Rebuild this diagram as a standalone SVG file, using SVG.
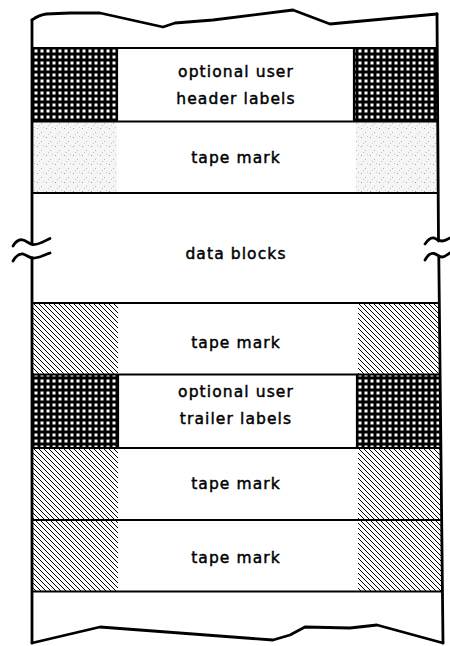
<svg xmlns="http://www.w3.org/2000/svg" width="450" height="646" viewBox="0 0 450 646">
<style>
.lbl{font-family:"DejaVu Sans","Liberation Sans",sans-serif;font-size:15.5px;letter-spacing:1.1px;fill:#000;stroke:#000;stroke-width:0.45;text-anchor:middle}
.sep{stroke:#000;stroke-width:2.2;fill:none}
.edge{stroke:#000;stroke-width:2.8;fill:none;stroke-linejoin:round;stroke-linecap:round}
.grid{fill:url(#grid)}
.hatch{fill:url(#hatch)}
.stip{fill:url(#stip)}
</style>
<defs>
<pattern id="grid" patternUnits="userSpaceOnUse" width="6" height="6" x="33" y="48">
<rect width="6" height="6" fill="#000"/>
<rect x="1.5" y="1.5" width="3" height="3" fill="#fff"/>
</pattern>
<pattern id="hatch" patternUnits="userSpaceOnUse" width="5" height="5">
<rect width="5" height="5" fill="#fff"/>
<path d="M0,0 L5,5 M-1,4 L1,6 M4,-1 L6,1" stroke="#000" stroke-width="1"/>
</pattern>
<pattern id="stip" patternUnits="userSpaceOnUse" width="9" height="9">
<rect width="9" height="9" fill="#f5f5f5"/>
<rect x="1" y="2" width="1" height="1" fill="#a0a0a0"/>
<rect x="5" y="6" width="1" height="1" fill="#b4b4b4"/>
<rect x="7" y="1" width="1" height="1" fill="#c8c8c8"/>
<rect x="3" y="8" width="1" height="1" fill="#c4c4c4"/>
</pattern>
</defs>

<g id="leader-top">
<path class="edge" d="M32,20 C36,17 40,15 46,14 L70,13 L100,13 L163,27 L175,23 L213,20 L293,10 L330,24 L437,14"/>
</g>

<g id="header-labels">
<rect x="33" y="48" width="85" height="73" class="grid"/>
<rect x="354" y="48" width="84" height="73" class="grid"/>
<text class="lbl" x="236" y="77">optional user</text>
<text class="lbl" x="236" y="104">header labels</text>
</g>

<g id="tape-mark-1">
<rect x="33" y="122" width="84" height="70" class="stip"/>
<rect x="356" y="122" width="82" height="70" class="stip"/>
<text class="lbl" x="236" y="163">tape mark</text>
</g>

<g id="data-blocks">
<text class="lbl" x="236" y="259">data blocks</text>
</g>

<g id="tape-mark-2">
<rect x="33" y="304" width="85" height="70" class="hatch"/>
<rect x="358" y="304" width="82" height="70" class="hatch"/>
<text class="lbl" x="236" y="348">tape mark</text>
</g>

<g id="trailer-labels">
<rect x="33" y="375" width="85" height="73" class="grid"/>
<rect x="357" y="375" width="84" height="73" class="grid"/>
<text class="lbl" x="236" y="397">optional user</text>
<text class="lbl" x="236" y="424">trailer labels</text>
</g>

<g id="tape-mark-3">
<rect x="33" y="449" width="85" height="70" class="hatch"/>
<rect x="358" y="449" width="83" height="70" class="hatch"/>
<text class="lbl" x="236" y="489">tape mark</text>
</g>

<g id="tape-mark-4">
<rect x="33" y="521" width="85" height="70" class="hatch"/>
<rect x="358" y="521" width="84" height="70" class="hatch"/>
<text class="lbl" x="236" y="563">tape mark</text>
</g>

<g id="trailer-bottom">
<path class="edge" d="M32,643 L100,627 L273,640 L290,635 L305,627 L350,628 L377,625 L443,643"/>
</g>

<g id="separators">
<line class="sep" x1="32" y1="48" x2="437" y2="48"/>
<line class="sep" x1="32" y1="121.5" x2="438" y2="121.5"/>
<line class="sep" x1="117" y1="48" x2="117" y2="121"/>
<line class="sep" x1="354" y1="48" x2="354" y2="121"/>
<line class="sep" x1="32" y1="193" x2="438" y2="193"/>
<line class="sep" x1="32" y1="303" x2="440" y2="303"/>
<line class="sep" x1="32" y1="374.5" x2="440" y2="374.5"/>
<line class="sep" x1="118" y1="375" x2="118" y2="448"/>
<line class="sep" x1="357" y1="375" x2="357" y2="448"/>
<line class="sep" x1="32" y1="448" x2="441" y2="448"/>
<line class="sep" x1="32" y1="520" x2="442" y2="520"/>
<line class="sep" x1="32" y1="591.5" x2="442" y2="591.5"/>
</g>

<g id="edges">
<line class="edge" x1="32" y1="20" x2="32" y2="244"/>
<line class="edge" x1="32" y1="258" x2="32" y2="643"/>
<line class="edge" x1="437" y1="14" x2="438.5" y2="241"/>
<line class="edge" x1="438.8" y1="257" x2="443" y2="643"/>
</g>

<g id="break-marks">
<path class="edge" d="M13,246 C16,241 19,239 23,240 C27,241 29,244 33,244.5 C39,245 44,241 50,238.5"/>
<path class="edge" d="M13,261 C16,256 19,253.5 23,254 C27,255 29,258 33,258 C39,258.5 44,255 50,253"/>
<path class="edge" d="M425,244 C428,240 430,237.5 434,238 C437,239 439,241 442,241 C445,241 447,239 450,238"/>
<path class="edge" d="M425,260 C428,255 430,253 434,253.5 C437,254 439,257 442,257 C445,257 447,255 450,253"/>
</g>
</svg>
